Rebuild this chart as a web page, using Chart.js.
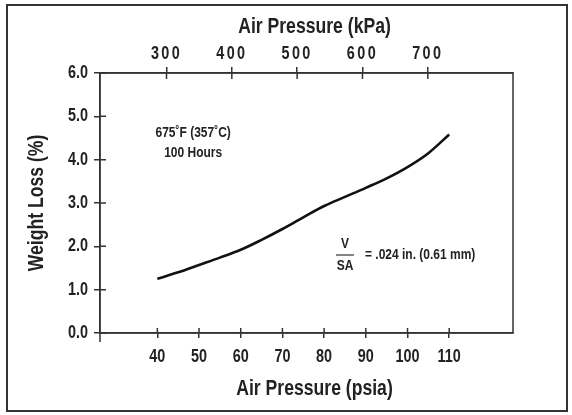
<!DOCTYPE html>
<html>
<head>
<meta charset="utf-8">
<script src="https://cdn.jsdelivr.net/npm/chart.js@4.4.0/dist/chart.umd.min.js"></script>
<style>
  html, body { margin: 0; padding: 0; background: #fff; }
  #wrap { position: relative; width: 572px; height: 415px; }
  #frame { position: absolute; left: 6px; top: 4px; width: 558px; height: 404px; border: 2px solid #333; pointer-events: none; }
  canvas { position: absolute; left: 0; top: 0; }
</style>
</head>
<body>
<div id="wrap">
  <canvas id="chart" width="572" height="415"></canvas>
  <div id="frame"></div>
</div>
<script>
// data
const pressurePsia = [40, 45, 50, 55, 60, 65, 70, 75, 80, 85, 90, 95, 100, 105, 110];
const weightLoss = [1.25, 1.40, 1.57, 1.74, 1.92, 2.15, 2.40, 2.67, 2.93, 3.14, 3.35, 3.57, 3.83, 4.15, 4.58];
const psiaTicks = [40, 50, 60, 70, 80, 90, 100, 110];
const kpaTicks = [300, 400, 500, 600, 700];
const lossTicks = [0, 1, 2, 3, 4, 5, 6];

const FONT = "'Liberation Sans', Arial, sans-serif";
const INK = '#222';
const AXIS = '#333';
const NARROW = 0.8; // the original uses a condensed face

const canvas = document.getElementById('chart');
const c2d = canvas.getContext('2d');
const rawFill = c2d.fillText.bind(c2d);
c2d.fillText = function (text, x, y) {
  this.save();
  this.translate(x, y);
  this.scale(NARROW, 1);
  rawFill(text, 0, 0);
  this.restore();
};

// inner halves of tick marks, box around the plot, titles and notes
const tickPlugin = {
  id: 'ticks',
  afterDraw(chart) {
    const ctx = chart.ctx;
    const a = chart.chartArea;
    const { x, x2, y } = chart.scales;
    ctx.save();
    ctx.strokeStyle = AXIS;
    ctx.lineWidth = 1.5;
    ctx.strokeRect(a.left, a.top, a.right - a.left, a.bottom - a.top);
    ctx.beginPath();
    x.ticks.forEach(t => { const px = x.getPixelForValue(t.value); ctx.moveTo(px, a.bottom); ctx.lineTo(px, a.bottom - 5); });
    x2.ticks.forEach(t => { const px = x2.getPixelForValue(t.value); ctx.moveTo(px, a.top); ctx.lineTo(px, a.top + 6); });
    y.ticks.forEach(t => { const py = y.getPixelForValue(t.value); ctx.moveTo(a.left, py); ctx.lineTo(a.left + 6, py); });
    ctx.moveTo(a.left, a.bottom);
    ctx.lineTo(a.left, a.bottom + 9);
    ctx.stroke();

    ctx.fillStyle = INK;
    ctx.textAlign = 'center';
    ctx.textBaseline = 'middle';

    // axis titles sit a little right of the plot centre in the original
    const tx = (a.left + a.right) / 2 + 8;
    ctx.font = 'bold 22px ' + FONT;
    ctx.fillText('Air Pressure (kPa)', tx, 27);
    ctx.fillText('Air Pressure (psia)', tx, 389);

    ctx.font = 'bold 15px ' + FONT;
    const nx = x.getPixelForValue(48.6);
    ctx.fillText('675˚F (357˚C)', nx, y.getPixelForValue(4.61));
    ctx.fillText('100 Hours', nx, y.getPixelForValue(4.15));

    const fx = x.getPixelForValue(85);
    const fy = y.getPixelForValue(1.8);
    ctx.fillText('V', fx, fy - 11);
    ctx.fillText('SA', fx, fy + 11);
    ctx.beginPath();
    ctx.lineWidth = 1.2;
    ctx.moveTo(fx - 9, fy);
    ctx.lineTo(fx + 9, fy);
    ctx.stroke();
    ctx.textAlign = 'left';
    ctx.fillText('= .024 in. (0.61 mm)', fx + 20, fy);
    ctx.restore();
  }
};

// spaced digits on the kPa axis
const spacingPlugin = {
  id: 'spacing',
  afterLayout(chart) {
    const s = chart.scales.x2;
    if (s._spaced) return;
    const orig = s.drawLabels.bind(s);
    s.drawLabels = function (area) {
      chart.ctx.save();
      chart.ctx.letterSpacing = '3px';
      orig(area);
      chart.ctx.restore();
    };
    s._spaced = true;
  }
};

const tickFont = { family: FONT, size: 18, weight: 'bold' };

new Chart(canvas, {
  type: 'line',
  data: {
    datasets: [{
      data: pressurePsia.map((p, i) => ({ x: p, y: weightLoss[i] })),
      borderColor: '#111',
      borderWidth: 2.6,
      pointRadius: 0,
      tension: 0.4,
      cubicInterpolationMode: 'monotone',
      xAxisID: 'x',
      yAxisID: 'y'
    }, {
      // carries the kPa axis, nothing drawn
      data: [],
      xAxisID: 'x2',
      yAxisID: 'y'
    }]
  },
  options: {
    responsive: false,
    animation: false,
    layout: { padding: { left: 20, top: 0, right: 59, bottom: 0 } },
    plugins: { legend: { display: false }, tooltip: { enabled: false } },
    scales: {
      x: {
        type: 'linear',
        position: 'bottom',
        min: 26.25,
        max: 125.3,
        afterBuildTicks: s => { s.ticks = psiaTicks.map(v => ({ value: v })); },
        afterFit: s => { s.height = 82; },
        grid: { drawOnChartArea: false, color: AXIS, tickLength: 5, lineWidth: 1.5 },
        border: { color: AXIS, width: 1.5 },
        ticks: { color: INK, font: tickFont, padding: 8, maxRotation: 0, autoSkip: false }
      },
      x2: {
        type: 'linear',
        position: 'top',
        min: 198.2,
        max: 830.4,
        afterBuildTicks: s => { s.ticks = kpaTicks.map(v => ({ value: v })); },
        afterFit: s => { s.height = 73; },
        grid: { drawOnChartArea: false, color: AXIS, tickLength: 6, lineWidth: 1.5 },
        border: { color: AXIS, width: 1.5 },
        ticks: { color: INK, font: tickFont, padding: 2, maxRotation: 0, autoSkip: false }
      },
      y: {
        type: 'linear',
        position: 'left',
        min: 0,
        max: 6,
        afterBuildTicks: s => { s.ticks = lossTicks.map(v => ({ value: v })); },
        afterFit: s => { s.width = 80; },
        grid: { drawOnChartArea: false, color: AXIS, tickLength: 6, lineWidth: 1.5 },
        border: { color: AXIS, width: 1.5 },
        ticks: { color: INK, font: tickFont, padding: 6, callback: v => v.toFixed(1) },
        title: { display: true, text: 'Weight Loss (%)', color: INK, font: { family: FONT, size: 22, weight: 'bold' }, padding: { top: 4 } }
      }
    }
  },
  plugins: [tickPlugin, spacingPlugin]
});
</script>
</body>
</html>
